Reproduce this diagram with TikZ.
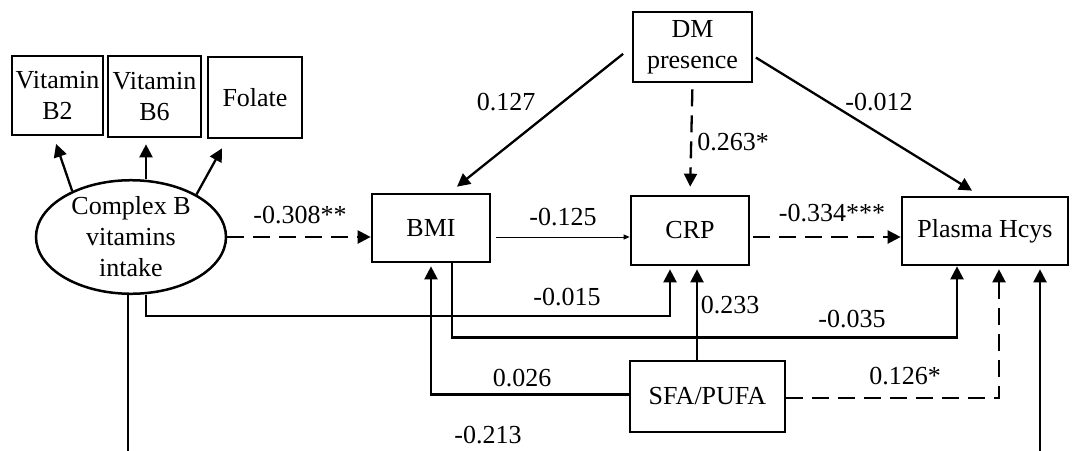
\documentclass[tikz,border=0pt]{standalone}
\usepackage{fontspec}
\setmainfont{Liberation Serif}
\usetikzlibrary{arrows.meta,calc,shapes.geometric}
\begin{document}
\begin{tikzpicture}[x=1pt,y=-1pt,
  every node/.style={font=\fontsize{26}{31}\selectfont},
  box/.style={draw,line width=2.7pt,inner sep=0pt,align=center},
  oval/.style={draw,ellipse,line width=2.5pt,inner sep=0pt,align=center},
  arr/.style={line width=2.3pt,-{Triangle[length=13pt,width=13pt]}},
  thinarr/.style={line width=1pt,-{Triangle[length=6pt,width=5pt]}},
  dsh/.style={dash pattern=on 17pt off 9pt},
  lbl/.style={inner sep=0pt}]
\useasboundingbox (0,0) rectangle (1073,450);
\clip (0,0) rectangle (1073,450);
% nodes
\node[box,minimum width=91pt,minimum height=79pt] (b2) at (57.5,95.5) {Vitamin\\B2};
\node[box,minimum width=93pt,minimum height=81pt] (b6) at (154.5,96.5) {Vitamin\\B6};
\node[box,minimum width=94pt,minimum height=81pt] (fol) at (255,97.5) {Folate};
\node[oval,minimum width=190pt,minimum height=113pt] (ell) at (131,237) {Complex B\\vitamins\\intake};
\node[box,minimum width=119pt,minimum height=70pt] (dm) at (692.5,47) {DM\\presence};
\node[box,minimum width=118pt,minimum height=68pt] (bmi) at (431,228) {BMI};
\node[box,minimum width=118pt,minimum height=69pt] (crp) at (690,230.5) {CRP};
\node[box,minimum width=166pt,minimum height=68pt] (ph) at (985,231) {Plasma Hcys};
\node[box,minimum width=155pt,minimum height=71pt] (sfa) at (707.5,396.5) {SFA/PUFA};
% connectors
\draw[arr,shorten >=8pt] (ell.142) -- ([xshift=-4pt]b2.south);
\draw[arr,shorten >=6pt] ([xshift=15pt]ell.north) -- ([xshift=-8.5pt]b6.south);
\draw[arr] (ell.33) -- ([xshift=-33pt,yshift=-9pt]fol.south);
\draw[arr,dsh] (ell.east) -- (ell.east -| bmi.west);
\draw[thinarr,shorten <=5pt] (bmi.east |- ell.east) -- (crp.west |- ell.east);
\draw[arr,dsh,shorten <=3pt] (crp.east |- ell.east) -- (ph.west |- ell.east);
\draw[arr,shorten <=11pt] (dm.west) -- ([xshift=26pt,yshift=6pt]bmi.north);
\draw[arr,dsh,shorten <=6pt,shorten >=8pt] (dm.south) -- (crp.north);
\draw[arr,shorten <=3pt] ([yshift=-9pt]dm.east) -- ([xshift=-13pt,yshift=5pt]ph.north);
\draw[arr,shorten >=3pt] ([xshift=15pt]ell.south) -- ++(0,21) -| ([xshift=-20pt]crp.south);
\draw[arr] ([xshift=21pt]bmi.south) -- ++(0,74) -| ([xshift=-28pt]ph.south);
\draw[arr,shorten >=3pt] ([yshift=2pt]sfa.west) -| (bmi.south);
\draw[arr,shorten >=3pt] ([xshift=-10.5pt]sfa.north) -- ([xshift=7pt]crp.south);
\draw[arr,dsh,shorten >=3pt] ([yshift=-1.5pt]sfa.east) -| ([xshift=14pt]ph.south);
\draw[arr,shorten >=3pt] ([xshift=-3pt]ell.south) -- ++(0,200) -| ([xshift=55pt]ph.south);
% labels
\node[lbl] (l1) at (300,215) {-0.308**};
\node[lbl] (l2) at (506,102) {0.127};
\node[lbl] (l3) at (733,142) {0.263*};
\node[lbl] (l4) at (879,102) {-0.012};
\node[lbl] (l5) at (563,217) {-0.125};
\node[lbl] (l6) at (832,213) {-0.334***};
\node[lbl] (l7) at (567,297) {-0.015};
\node[lbl] (l8) at (730,305) {0.233};
\node[lbl] (l9) at (852,319) {-0.035};
\node[lbl] (l10) at (522,378) {0.026};
\node[lbl] (l11) at (905,376) {0.126*};
\node[lbl] (l12) at (488,435) {-0.213};
\end{tikzpicture}
\end{document}
